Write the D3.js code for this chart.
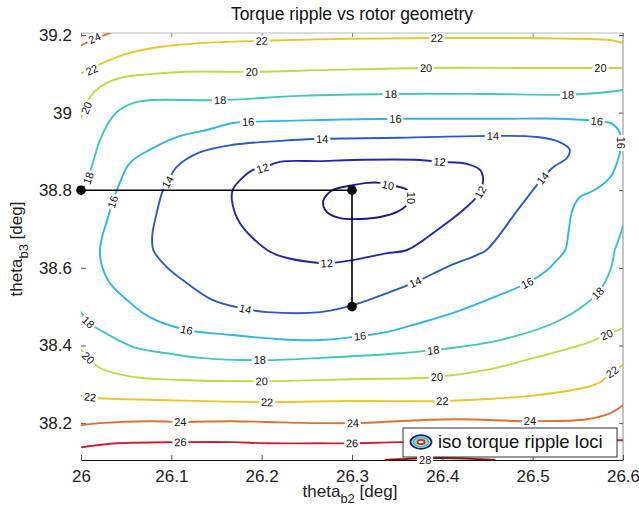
<!DOCTYPE html>
<html><head><meta charset="utf-8">
<script src="https://cdn.jsdelivr.net/npm/d3@7"></script>
<style>body{margin:0;background:#fff}svg{display:block;font-family:"Liberation Sans",Arial,sans-serif}</style>
</head><body><svg id="c" width="639" height="512"></svg>
<script>
// ---- data ----
const xTicks = [26, 26.1, 26.2, 26.3, 26.4, 26.5, 26.6];
const yTicks = [38.2, 38.4, 38.6, 38.8, 39, 39.2];
const levels = [10, 12, 14, 16, 18, 20, 22, 24, 26, 28];

// iso-lines (theta_b2, theta_b3)
const c10 = [[26.268,38.770],[26.272,38.788],[26.279,38.801],[26.301,38.813],[26.317,38.819],[26.331,38.819],[26.340,38.813],[26.353,38.808],[26.361,38.801],[26.365,38.780],[26.361,38.762],[26.350,38.744],[26.331,38.731],[26.309,38.726],[26.287,38.728],[26.272,38.744]];
const c12 = [[26.265,38.875],[26.301,38.878],[26.375,38.878],[26.397,38.873],[26.427,38.868],[26.442,38.852],[26.445,38.834],[26.442,38.795],[26.423,38.749],[26.394,38.697],[26.361,38.646],[26.339,38.638],[26.301,38.620],[26.272,38.612],[26.254,38.615],[26.224,38.628],[26.206,38.646],[26.176,38.715],[26.167,38.775],[26.168,38.801],[26.176,38.826],[26.190,38.852],[26.201,38.857],[26.220,38.873]];
const c14 = [[26.257,38.932],[26.353,38.935],[26.456,38.940],[26.505,38.937],[26.530,38.924],[26.541,38.904],[26.538,38.883],[26.523,38.860],[26.511,38.831],[26.486,38.757],[26.449,38.646],[26.438,38.633],[26.405,38.602],[26.370,38.563],[26.339,38.535],[26.301,38.504],[26.265,38.486],[26.206,38.486],[26.182,38.494],[26.146,38.517],[26.117,38.561],[26.095,38.602],[26.080,38.646],[26.079,38.685],[26.082,38.723],[26.090,38.795],[26.096,38.821],[26.106,38.860],[26.132,38.898],[26.168,38.917],[26.220,38.927]];
const c16 = [[26.185,38.976],[26.265,38.981],[26.348,38.984],[26.464,38.984],[26.530,38.984],[26.571,38.978],[26.588,38.971],[26.596,38.950],[26.598,38.922],[26.596,38.891],[26.586,38.834],[26.569,38.801],[26.552,38.782],[26.544,38.749],[26.540,38.697],[26.536,38.646],[26.525,38.615],[26.516,38.594],[26.494,38.561],[26.449,38.517],[26.412,38.484],[26.375,38.458],[26.339,38.435],[26.309,38.424],[26.265,38.414],[26.220,38.416],[26.168,38.427],[26.117,38.440],[26.076,38.473],[26.051,38.517],[26.032,38.561],[26.023,38.607],[26.021,38.646],[26.024,38.685],[26.029,38.723],[26.035,38.770],[26.041,38.808],[26.054,38.870],[26.076,38.904],[26.106,38.937],[26.139,38.955],[26.168,38.973]];
const c18a = [[26.001,38.788],[26.004,38.811],[26.008,38.831],[26.013,38.870],[26.021,38.929],[26.029,38.968],[26.040,39.002],[26.058,39.025],[26.076,39.032],[26.154,39.032],[26.242,39.043],[26.343,39.048],[26.442,39.048],[26.539,39.046],[26.575,39.051],[26.600,39.058]];
const c18b = [[26.000,38.486],[26.008,38.460],[26.021,38.440],[26.058,38.396],[26.095,38.380],[26.132,38.368],[26.198,38.362],[26.265,38.368],[26.353,38.380],[26.390,38.388],[26.464,38.414],[26.530,38.465],[26.572,38.535],[26.586,38.594],[26.591,38.646],[26.597,38.685],[26.600,38.710]];
const c20a = [[26.000,38.986],[26.004,39.012],[26.010,39.040],[26.021,39.066],[26.043,39.089],[26.076,39.099],[26.117,39.105],[26.189,39.105],[26.276,39.110],[26.382,39.115],[26.486,39.115],[26.575,39.115],[26.600,39.115]];
const c20b = [[26.000,38.388],[26.008,38.368],[26.021,38.342],[26.058,38.319],[26.110,38.311],[26.200,38.308],[26.298,38.313],[26.394,38.319],[26.449,38.337],[26.505,38.370],[26.560,38.406],[26.582,38.428],[26.600,38.445]];
const c22a = [[26.001,39.102],[26.015,39.118],[26.032,39.136],[26.054,39.154],[26.087,39.169],[26.132,39.179],[26.200,39.185],[26.298,39.190],[26.394,39.192],[26.486,39.192],[26.552,39.190],[26.586,39.187],[26.600,39.179]];
const c22b = [[26.000,38.270],[26.010,38.267],[26.021,38.264],[26.095,38.259],[26.206,38.254],[26.298,38.257],[26.400,38.257],[26.449,38.262],[26.505,38.272],[26.560,38.293],[26.575,38.306],[26.588,38.332],[26.600,38.349]];
const c24a = [[26.001,39.174],[26.010,39.185],[26.021,39.195],[26.032,39.205]];
const c24b = [[26.001,38.195],[26.021,38.200],[26.076,38.205],[26.110,38.203],[26.168,38.205],[26.206,38.203],[26.265,38.200],[26.301,38.200],[26.412,38.210],[26.497,38.205],[26.560,38.210],[26.586,38.226],[26.600,38.246]];
const c26 = [[26.001,38.138],[26.040,38.148],[26.110,38.151],[26.168,38.151],[26.206,38.148],[26.265,38.148],[26.300,38.148],[26.353,38.151],[26.464,38.154],[26.575,38.156],[26.600,38.156]];
const c28 = [[26.337,38.105],[26.353,38.107],[26.397,38.110],[26.442,38.107],[26.458,38.105]];

const contourLines = [
  {level:10, pts:c10, closed:true},
  {level:12, pts:c12, closed:true},
  {level:14, pts:c14, closed:true},
  {level:16, pts:c16, closed:true},
  {level:18, pts:c18a, closed:false},
  {level:18, pts:c18b, closed:false},
  {level:20, pts:c20a, closed:false},
  {level:20, pts:c20b, closed:false},
  {level:22, pts:c22a, closed:false},
  {level:22, pts:c22b, closed:false},
  {level:24, pts:c24a, closed:false},
  {level:24, pts:c24b, closed:false},
  {level:26, pts:c26, closed:false},
  {level:28, pts:c28, closed:false}
];

// label anchors: [level, theta_b2, theta_b3]
const contourLabels = [
  [10,26.340,38.813],[10,26.365,38.780],
  [12,26.201,38.857],[12,26.397,38.873],[12,26.442,38.795],[12,26.272,38.612],
  [14,26.267,38.932],[14,26.456,38.940],[14,26.511,38.831],[14,26.370,38.563],[14,26.182,38.494],[14,26.096,38.821],
  [16,26.185,38.976],[16,26.348,38.984],[16,26.571,38.978],[16,26.598,38.922],[16,26.494,38.561],[16,26.309,38.424],[16,26.117,38.440],[16,26.035,38.770],
  [18,26.008,38.831],[18,26.154,39.032],[18,26.343,39.048],[18,26.539,39.046],[18,26.008,38.460],[18,26.198,38.362],[18,26.390,38.388],[18,26.572,38.535],
  [20,26.006,39.012],[20,26.189,39.105],[20,26.382,39.115],[20,26.575,39.115],[20,26.008,38.368],[20,26.200,38.308],[20,26.394,38.319],[20,26.582,38.428],
  [22,26.012,39.110],[22,26.200,39.185],[22,26.394,39.192],[22,26.010,38.267],[22,26.206,38.254],[22,26.400,38.257],[22,26.588,38.332],
  [24,26.015,39.192],[24,26.110,38.203],[24,26.301,38.200],[24,26.497,38.205],
  [26,26.110,38.151],[26,26.300,38.148],
  [28,26.381,38.104]
];

// selected geometry path
const pathB2 = [26.0, 26.3, 26.3];
const pathB3 = [38.8, 38.8, 38.5];

const levelColors = ["#1c1c80","#2228a8","#2a5cc0","#30b4e2","#40c8b8","#c4d846","#eac52c","#dc7234","#c82238","#801212"];

// ---- drawing ----
const svg = d3.select("#c");
const x = d3.scaleLinear().domain([26, 26.6]).range([81, 623]);
const y = d3.scaleLinear().domain([38.105, 39.205]).range([460, 33]);
const color = d3.scaleOrdinal().domain(levels).range(levelColors);
const fmt = d => String(+(+d).toFixed(1));

// title
svg.append("text").attr("x", 352).attr("y", 20).attr("text-anchor","middle")
  .style("font-size","17.5px").attr("fill","#111").text("Torque ripple vs rotor geometry");

// frame
svg.append("line").attr("x1",x(26)).attr("x2",x(26.6)).attr("y1",y.range()[1]).attr("y2",y.range()[1]).attr("stroke","#b8b8b8");
svg.append("line").attr("x1",x(26.6)).attr("x2",x(26.6)).attr("y1",y.range()[1]).attr("y2",y.range()[0]).attr("stroke","#8a8a8a");

// axes
const gx = svg.append("g").attr("transform",`translate(0,${y.range()[0]})`)
  .call(d3.axisBottom(x).tickValues(xTicks).tickFormat(fmt).tickSizeInner(-5).tickSizeOuter(0).tickPadding(10));
gx.select(".domain").attr("stroke","#111").attr("stroke-width",1.2);
gx.selectAll(".tick line").attr("stroke","#555");
gx.selectAll("text").style("font-size","17px").attr("fill","#222").attr("font-family","Liberation Sans, Arial, sans-serif");

const gy = svg.append("g").attr("transform",`translate(${x.range()[0]},0)`)
  .call(d3.axisLeft(y).tickValues(yTicks).tickFormat(fmt).tickSizeInner(-5).tickSizeOuter(0).tickPadding(9));
gy.select(".domain").remove();
gy.selectAll(".tick line").attr("stroke","#555");
gy.selectAll("text").style("font-size","17px").attr("fill","#222").attr("font-family","Liberation Sans, Arial, sans-serif");

const gt = svg.append("g").attr("transform",`translate(0,${y.range()[1]})`)
  .call(d3.axisTop(x).tickValues(xTicks).tickFormat("").tickSizeInner(-4).tickSizeOuter(0));
gt.select(".domain").remove(); gt.selectAll(".tick line").attr("stroke","#888");
const gr = svg.append("g").attr("transform",`translate(${x.range()[1]},0)`)
  .call(d3.axisRight(y).tickValues(yTicks).tickFormat("").tickSizeInner(-4).tickSizeOuter(0));
gr.select(".domain").remove(); gr.selectAll(".tick line").attr("stroke","#555");

// axis labels
const xl = svg.append("text").attr("x",350).attr("y",497).attr("text-anchor","middle")
  .style("font-size","17px").attr("fill","#222");
xl.append("tspan").text("theta");
xl.append("tspan").attr("dy",6).style("font-size","13px").text("b2");
xl.append("tspan").attr("dy",-6).text(" [deg]");

const yl = svg.append("text").attr("transform","translate(22,249) rotate(-90)").attr("text-anchor","middle")
  .style("font-size","17px").attr("fill","#222");
yl.append("tspan").text("theta");
yl.append("tspan").attr("dy",6).style("font-size","13px").text("b3");
yl.append("tspan").attr("dy",-6).text(" [deg]");

// clip
svg.append("clipPath").attr("id","clip").append("rect")
  .attr("x",x(26)).attr("y",y.range()[1]).attr("width",x(26.6)-x(26)).attr("height",y.range()[0]-y.range()[1]+1);

const plot = svg.append("g").attr("clip-path","url(#clip)");
const lineOpen = d3.line().x(d=>x(d[0])).y(d=>y(d[1])).curve(d3.curveCatmullRom.alpha(0.5));
const lineClosed = d3.line().x(d=>x(d[0])).y(d=>y(d[1])).curve(d3.curveCatmullRomClosed.alpha(0.5));

plot.selectAll("path.iso").data(contourLines).join("path").attr("class","iso")
  .attr("d", d => (d.closed ? lineClosed : lineOpen)(d.pts))
  .attr("fill","none").attr("stroke", d => color(d.level)).attr("stroke-width",1.9)
  .attr("stroke-linejoin","round").attr("stroke-linecap","round");

// legend box
const lg = svg.append("g");
lg.append("rect").attr("x",403).attr("y",428).attr("width",214).attr("height",29)
  .attr("fill","#fff").attr("stroke","#333").attr("stroke-width",1);
const ic = lg.append("g").attr("transform","translate(421,442)");
ic.append("ellipse").attr("rx",10.5).attr("ry",6.8).attr("fill","#bfeaf4").attr("stroke","#1c1c80").attr("stroke-width",1.8);
ic.append("ellipse").attr("rx",7.5).attr("ry",4.6).attr("fill","none").attr("stroke","#38bfe0").attr("stroke-width",2);
ic.append("ellipse").attr("rx",5.5).attr("ry",3.2).attr("fill","none").attr("stroke","#b8dc70").attr("stroke-width",1.4);
ic.append("ellipse").attr("rx",3.6).attr("ry",2.1).attr("fill","#fff").attr("stroke","#d02020").attr("stroke-width",1.8);
lg.append("text").attr("x",438).attr("y",448).style("font-size","18.5px").attr("fill","#111").text("iso torque ripple loci");

// contour labels (rotated along the line)
function labelAngle(lv, lx, ly) {
  const cands = contourLines.filter(c => c.level === lv);
  let best = null;
  cands.forEach(c => {
    c.pts.forEach((p, i) => {
      const dd = (x(p[0])-x(lx))**2 + (y(p[1])-y(ly))**2;
      if (!best || dd < best.dd) best = {dd, c, i};
    });
  });
  const {c, i} = best, n = c.pts.length;
  let a, b;
  if (c.closed) { a = c.pts[(i-1+n)%n]; b = c.pts[(i+1)%n]; }
  else { a = c.pts[Math.max(0,i-1)]; b = c.pts[Math.min(n-1,i+1)]; }
  let ang = Math.atan2(y(b[1])-y(a[1]), x(b[0])-x(a[0])) * 180/Math.PI;
  if (ang > 90) ang -= 180;
  if (ang < -90) ang += 180;
  return ang;
}
const lab = svg.append("g").selectAll("g").data(contourLabels).join("g")
  .attr("transform", d => `translate(${x(d[1])},${y(d[2])}) rotate(${labelAngle(d[0], d[1], d[2])})`);
lab.append("rect").attr("x",-8).attr("y",-5).attr("width",16).attr("height",10).attr("fill","#fff");
lab.append("text").attr("text-anchor","middle").attr("dy","0.36em")
  .style("font-size","11px").attr("fill","#111").text(d => d[0]);

// selected path & points
const pts = pathB2.map((b2, i) => [b2, pathB3[i]]);
svg.append("path").attr("d", d3.line().x(d=>x(d[0])).y(d=>y(d[1]))(pts))
  .attr("fill","none").attr("stroke","#000").attr("stroke-width",1.6);
svg.selectAll("circle.pt").data(pts).join("circle").attr("class","pt")
  .attr("cx", d=>x(d[0])).attr("cy", d=>y(d[1])).attr("r",4.8).attr("fill","#000");
</script></body></html>
